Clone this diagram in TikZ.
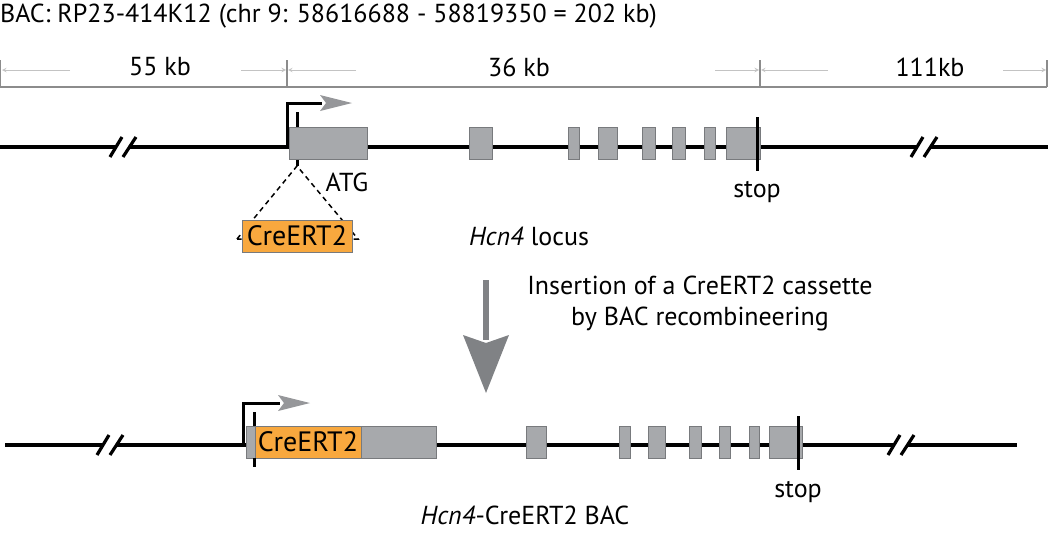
\documentclass[tikz,border=0pt]{standalone}
\usepackage{fontspec}
\setmainfont{PT Sans}
\usepackage{tikz}
\usetikzlibrary{arrows,shapes,positioning}
\definecolor{exgray}{RGB}{167,169,172}
\definecolor{exedge}{RGB}{120,122,125}
\definecolor{creorange}{RGB}{248,168,62}
\definecolor{scalegray}{RGB}{140,140,140}
\definecolor{arrgray}{RGB}{195,195,195}
\definecolor{headgray}{RGB}{150,151,154}
\definecolor{bigarrow}{RGB}{128,130,133}
\tikzstyle{exon} = [rectangle, minimum height=32pt, inner sep=0pt, draw=exedge, fill=exgray, line width=1pt]
\tikzstyle{cre} = [exon, fill=creorange, inner sep=1pt, font=\fontsize{28}{32}\selectfont]
\tikzstyle{dna} = [line width=3.2pt, color=black]
\tikzstyle{tick} = [line width=3pt, color=black]
\tikzstyle{scaleline} = [line width=1.2pt, color=scalegray]
\tikzstyle{scalearrow} = [line width=1pt, ->, >=stealth, color=arrgray]
\tikzstyle{txt} = [inner sep=0pt, text=black]

\begin{document}
\begin{tikzpicture}[x=1pt, y=-1pt, font=\fontsize{26}{31}\selectfont]
\useasboundingbox (0,0) rectangle (1050,538);

% Title
\node (title) [txt, anchor=base west] at (0,22) {BAC: RP23-414K12 (chr 9: 58616688 - 58819350 = 202 kb)};

% Scale bar
\coordinate (s0) at (0,87);
\coordinate (s1) at (287,87);
\coordinate (s2) at (760,87);
\coordinate (s3) at (1047,87);
\draw[scaleline] (s0) -- (s3);
\draw[scaleline] (s0) -- ++(0,-27);
\draw[scaleline] (s1) -- ++(0,-27);
\draw[scaleline] (s2) -- ++(0,-27);
\draw[scaleline] (s3) -- ++(0,-27);
\node (kb55) [txt] at (160,67) {55 kb};
\node (kb36) [txt] at (519,67) {36 kb};
\node (kb111) [txt] at (930,67) {111kb};
\draw[scalearrow] (70,70) -- (2,70);
\draw[scalearrow] (241,70) -- (286,70);
\draw[scalearrow] (356,70) -- (288,70);
\draw[scalearrow] (715,70) -- (759,70);
\draw[scalearrow] (828,70) -- (761,70);
\draw[scalearrow] (1003,70) -- (1046,70);

% Hcn4 locus
\coordinate (a0) at (0,147);
\coordinate (a9) at (1048,147);
\coordinate (brkA) at (123,147);
\coordinate (brkB) at (924,147);
\draw[dna] (a0) -- ([xshift=-7pt]brkA);
\draw[dna] ([xshift=7pt]brkA) -- ([xshift=-7pt]brkB);
\draw[dna] ([xshift=7pt]brkB) -- (a9);
\draw[dna] (brkA) ++(-13,10) -- ++(12,-20);
\draw[dna] (brkA) ++(0,10) -- ++(13,-20);
\draw[dna] (brkB) ++(-13,10) -- ++(12,-20);
\draw[dna] (brkB) ++(0,10) -- ++(13,-20);

% promoter and ATG
\coordinate (tssA) at (287,147);
\coordinate (hdA) at (322,103);
\draw[tick] (tssA) |- (hdA);
\fill[headgray] (hdA) ++(-2,-8) -- ++(32,8) -- ++(-32,8) -- ++(6,-8) -- cycle;
\coordinate (atgA) at (297,112);
\coordinate (atgB) at (297,166);
\draw[tick] (atgA) -- (atgB);

% exons
\node (exA1) [exon, minimum width=78pt] at (328,143) {};
\node (exA2) [exon, minimum width=23pt] at (480.5,143) {};
\node (exA3) [exon, minimum width=11pt] at (573.5,143) {};
\node (exA4) [exon, minimum width=19pt] at (607.5,143) {};
\node (exA5) [exon, minimum width=13pt] at (648.5,143) {};
\node (exA6) [exon, minimum width=13pt] at (678.5,143) {};
\node (exA7) [exon, minimum width=11pt] at (709.5,143) {};
\node (exA8) [exon, minimum width=34pt] at (743,143) {};
\draw[tick] (757,117) -- (757,171);

\node (atg) [txt] at (347,182) {ATG};
\node (stopA) [txt, anchor=north] at (757,181) {stop};

% cassette to insert
\coordinate (triL) at (237,239);
\coordinate (triR) at (358,239);
\draw[line width=1.5pt, dash pattern=on 5pt off 4pt] (triL) -- (atgB) -- (triR) -- cycle;
\node (creA) [cre, minimum width=110pt] at (297,236) {CreERT2};

\node (locus) [txt] at (529,236) {\textit{Hcn4} locus};

% recombineering step
\draw[line width=6pt, bigarrow] (486,280) -- (486,340);
\fill[bigarrow] (463,335) -- (486,343) -- (509,335) -- (486,393) -- cycle;
\node (step1) [txt, align=center] at (700,303) {Insertion of a CreERT2 cassette\\by BAC recombineering};

% Hcn4-CreERT2 BAC
\coordinate (b0) at (5,445);
\coordinate (b9) at (1017,445);
\coordinate (brkC) at (110,445);
\coordinate (brkD) at (901,445);
\draw[dna] (b0) -- ([xshift=-7pt]brkC);
\draw[dna] ([xshift=7pt]brkC) -- ([xshift=-7pt]brkD);
\draw[dna] ([xshift=7pt]brkD) -- (b9);
\draw[dna] (brkC) ++(-13,10) -- ++(12,-20);
\draw[dna] (brkC) ++(0,10) -- ++(13,-20);
\draw[dna] (brkD) ++(-13,10) -- ++(12,-20);
\draw[dna] (brkD) ++(0,10) -- ++(13,-20);

\coordinate (tssB) at (243,445);
\coordinate (hdB) at (280,403);
\draw[tick] (tssB) |- (hdB);
\fill[headgray] (hdB) ++(-2,-8) -- ++(32,8) -- ++(-32,8) -- ++(6,-8) -- cycle;
\draw[tick] (254,412) -- (254,467);

\node (exB1) [exon, minimum width=190pt] at (341,442) {};
\node (creB) [cre, minimum width=106pt] at (308,442) {CreERT2};
\draw[tick] (254,458) -- (254,467);
\node (exB2) [exon, minimum width=20pt] at (536,442) {};
\node (exB3) [exon, minimum width=11pt] at (624.5,442) {};
\node (exB4) [exon, minimum width=17pt] at (656.5,442) {};
\node (exB5) [exon, minimum width=12pt] at (695,442) {};
\node (exB6) [exon, minimum width=11pt] at (724.5,442) {};
\node (exB7) [exon, minimum width=10pt] at (754,442) {};
\node (exB8) [exon, minimum width=33pt] at (785.5,442) {};
\draw[tick] (798,416) -- (798,470);

\node (stopB) [txt, anchor=north] at (798,481) {stop};
\node (bac) [txt] at (525,515) {\textit{Hcn4}-CreERT2 BAC};
\end{tikzpicture}
\end{document}
